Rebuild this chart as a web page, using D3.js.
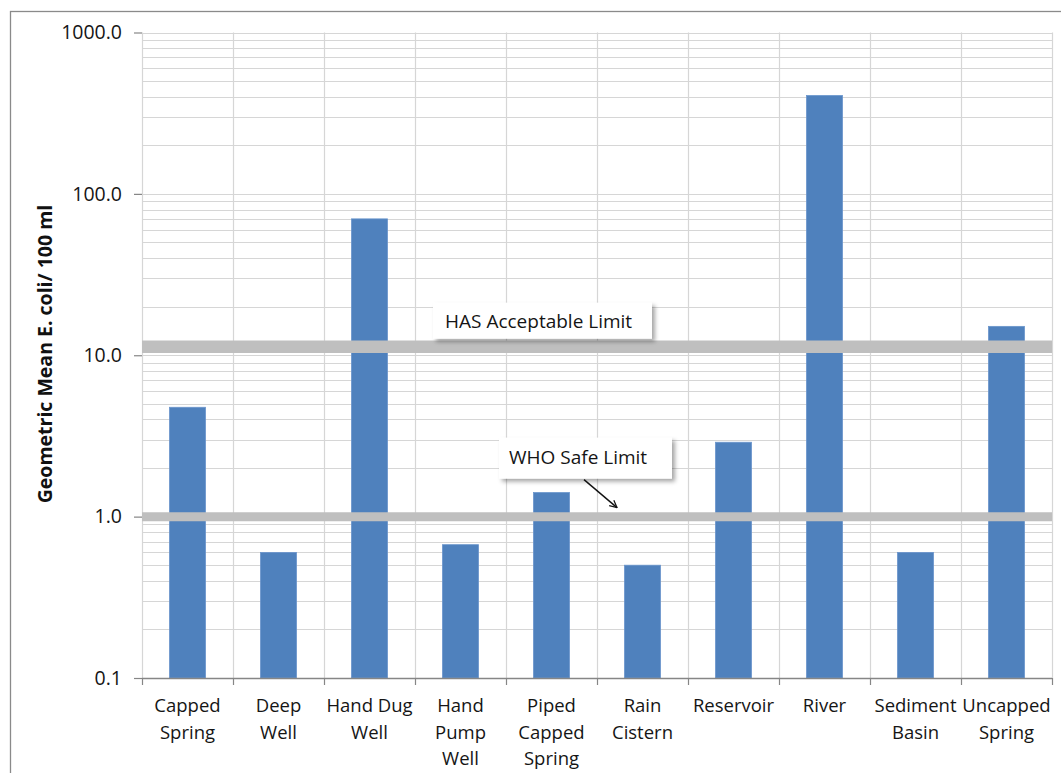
<!DOCTYPE html>
<html>
<head>
<meta charset="utf-8">
<script src="https://cdn.jsdelivr.net/npm/d3@7"></script>
<style>
  html, body { margin: 0; padding: 0; background: #fff; }
  svg { display: block; font-family: "Open Sans", "Noto Sans", sans-serif; }
</style>
</head>
<body>
<svg id="chart" width="1061" height="773"></svg>
<script>
// Water source types and their geometric mean E. coli counts (per 100 ml)
const categories = ["Capped Spring", "Deep Well", "Hand Dug Well", "Hand Pump Well",
  "Piped Capped Spring", "Rain Cistern", "Reservoir", "River", "Sediment Basin", "Uncapped Spring"];
const categoryLines = [["Capped", "Spring"], ["Deep", "Well"], ["Hand Dug", "Well"],
  ["Hand", "Pump", "Well"], ["Piped", "Capped", "Spring"], ["Rain", "Cistern"],
  ["Reservoir"], ["River"], ["Sediment", "Basin"], ["Uncapped", "Spring"]];
const geoMeans = [4.76, 0.60, 70, 0.67, 1.41, 0.50, 2.89, 407, 0.60, 15.1];

// Reference limits drawn as horizontal bands
const limitNames = ["WHO Safe Limit", "HAS Acceptable Limit"];
const limitValues = [1.0, 11.3];

// Axis labelling
const yTickValues = [0.1, 1, 10, 100, 1000];
const yTitle = "Geometric Mean E. coli/ 100 ml";

const svg = d3.select("#chart");
const plot = { left: 142, right: 1052, top: 32.5, bottom: 678 };
const ink = "#151515";

// Drop shadow used by the callout boxes
const defs = svg.append("defs");
const f = defs.append("filter").attr("id", "shadow")
  .attr("x", "-10%").attr("y", "-20%").attr("width", "130%").attr("height", "160%");
f.append("feDropShadow").attr("dx", 3).attr("dy", 3).attr("stdDeviation", 2)
  .attr("flood-color", "#000").attr("flood-opacity", 0.35);
defs.append("marker").attr("id", "arrow").attr("viewBox", "0 0 10 10")
  .attr("refX", 9).attr("refY", 5).attr("markerWidth", 9).attr("markerHeight", 9)
  .attr("orient", "auto-start-reverse").attr("markerUnits", "userSpaceOnUse")
  .append("path").attr("d", "M1,1 L9,5 L1,9").attr("fill", "none")
  .attr("stroke", "#111").attr("stroke-width", 1.4);

// Outer chart frame
svg.append("rect").attr("x", 10.5).attr("y", 11.5).attr("width", 1100).attr("height", 800)
  .attr("fill", "none").attr("stroke", "#8a8a8a").attr("stroke-width", 1.3);

const y = d3.scaleLog().domain([0.1, 1000]).range([plot.bottom, plot.top]);
const xb = d3.scaleBand().domain(categories).range([plot.left, plot.right]);
const x = d3.scaleBand().domain(categories).range([plot.left, plot.right])
  .paddingInner(0.604).paddingOuter(0.302);

// Gridlines: every minor log step horizontally, category boundaries vertically
const grid = svg.append("g").attr("stroke", "#d6d6d6").attr("stroke-width", 1.2);
grid.selectAll("line.h").data(y.ticks()).join("line")
  .attr("x1", plot.left).attr("x2", plot.right)
  .attr("y1", d => Math.round(y(d)) + 0.5).attr("y2", d => Math.round(y(d)) + 0.5);
const boundaries = categories.map(c => xb(c)).concat([plot.right]);
grid.selectAll("line.v").data(boundaries).join("line")
  .attr("x1", d => Math.round(d) + 0.5).attr("x2", d => Math.round(d) + 0.5)
  .attr("y1", plot.top).attr("y2", plot.bottom);

// Bars
svg.append("g").selectAll("rect").data(categories).join("rect")
  .attr("x", c => x(c)).attr("width", x.bandwidth())
  .attr("y", (c, i) => y(geoMeans[i]))
  .attr("height", (c, i) => plot.bottom - y(geoMeans[i]))
  .attr("fill", "#4f81bd").attr("stroke", "#6a95cc").attr("stroke-width", 0.8);

// Limit bands
const bandWidths = [9, 12.5];
svg.append("g").selectAll("line").data(limitValues).join("line")
  .attr("x1", plot.left).attr("x2", plot.right)
  .attr("y1", d => y(d)).attr("y2", d => y(d))
  .attr("stroke", "#bfbfbf").attr("stroke-width", (d, i) => bandWidths[i]);

// Y axis
const yAxis = svg.append("g").attr("transform", `translate(${plot.left},0)`)
  .call(d3.axisLeft(y).tickValues(yTickValues).tickFormat(d3.format(".1f"))
    .tickSize(8).tickPadding(12));
yAxis.select(".domain").remove();
yAxis.selectAll(".tick line").attr("stroke", "#868686").attr("stroke-width", 1.2);
yAxis.selectAll(".tick text").attr("font-size", 19.5).attr("fill", ink)
  .attr("font-family", "'Open Sans', sans-serif");

// X axis line, boundary ticks and wrapped category labels
const xAxis = svg.append("g");
xAxis.append("line").attr("x1", plot.left).attr("x2", plot.right)
  .attr("y1", plot.bottom + 0.5).attr("y2", plot.bottom + 0.5)
  .attr("stroke", "#868686").attr("stroke-width", 1.3);
xAxis.selectAll("line.tick").data(boundaries).join("line")
  .attr("x1", d => Math.round(d) + 0.5).attr("x2", d => Math.round(d) + 0.5)
  .attr("y1", plot.bottom).attr("y2", plot.bottom + 7)
  .attr("stroke", "#868686").attr("stroke-width", 1.2);
const labels = xAxis.selectAll("text").data(categories).join("text")
  .attr("x", c => x(c) + x.bandwidth() / 2).attr("y", 712)
  .attr("text-anchor", "middle").attr("font-size", 18.5).attr("fill", ink);
labels.each(function (c, i) {
  d3.select(this).selectAll("tspan").data(categoryLines[i]).join("tspan")
    .attr("x", x(c) + x.bandwidth() / 2)
    .attr("dy", (d, j) => j === 0 ? 0 : 26.5)
    .text(d => d);
});

// Y axis title
svg.append("text")
  .attr("transform", "translate(52,354) rotate(-90)")
  .attr("text-anchor", "middle").attr("font-size", 19.5).attr("font-weight", "bold")
  .attr("fill", "#111").text(yTitle);

// Callouts for the two limits
const hasY = y(limitValues[1]);
const hasBox = svg.append("g").attr("transform", `translate(433,${hasY - 44})`);
hasBox.append("rect").attr("width", 219).attr("height", 36).attr("fill", "#fff")
  .attr("filter", "url(#shadow)");
hasBox.append("text").attr("x", 12).attr("y", 25).attr("font-size", 19)
  .attr("fill", ink).text(limitNames[1]);

const whoY = y(limitValues[0]);
const whoBox = svg.append("g").attr("transform", `translate(499,${whoY - 79})`);
whoBox.append("rect").attr("width", 173).attr("height", 41).attr("fill", "#fff")
  .attr("filter", "url(#shadow)");
whoBox.append("text").attr("x", 10).attr("y", 26).attr("font-size", 19)
  .attr("fill", ink).text(limitNames[0]);
svg.append("line").attr("x1", 584).attr("y1", whoY - 37).attr("x2", 617).attr("y2", whoY - 9)
  .attr("stroke", "#111").attr("stroke-width", 1.4).attr("marker-end", "url(#arrow)");
</script>
</body>
</html>
